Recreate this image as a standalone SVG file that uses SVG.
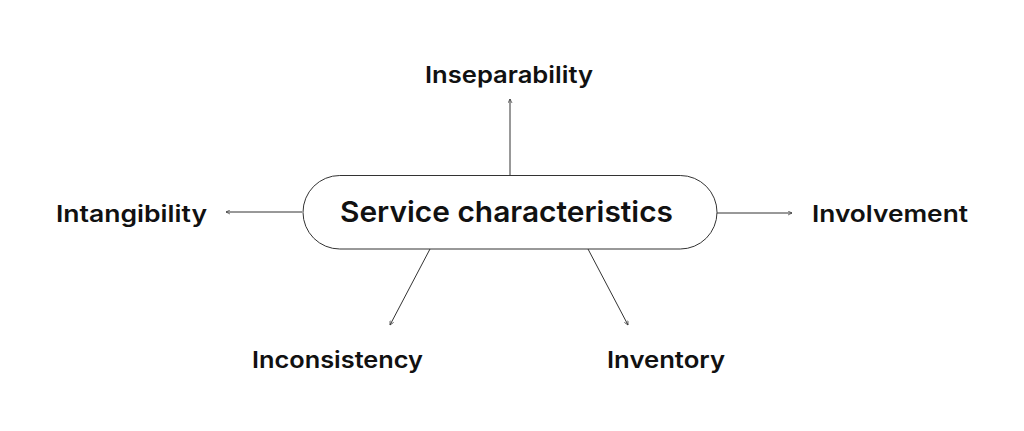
<svg xmlns="http://www.w3.org/2000/svg" width="1024" height="431" viewBox="0 0 1024 431">
<style>
.lbl{font-family:Inter,"Noto Sans","Liberation Sans",sans-serif;font-weight:600;font-size:23px;fill:#111;}
.main{font-family:Inter,"Noto Sans","Liberation Sans",sans-serif;font-weight:600;font-size:29px;fill:#111;}
.conn line{stroke:#333;stroke-width:1;fill:none;marker-end:url(#arr);}
</style>
<defs>
<marker id="arr" viewBox="0 0 10 10" refX="9" refY="5" markerWidth="5" markerHeight="5" orient="auto" markerUnits="userSpaceOnUse">
<path d="M1,1 L9,5 L1,9" fill="none" stroke="#333" stroke-width="1.4"/>
</marker>
</defs>
<rect width="1024" height="431" fill="#fff"/>
<g class="conn" id="connectors">
<line x1="510" y1="175" x2="510" y2="99"/>
<line x1="302" y1="212" x2="226" y2="212"/>
<line x1="717" y1="213" x2="792" y2="213"/>
<line x1="430" y1="249" x2="390" y2="325"/>
<line x1="588" y1="249" x2="628" y2="325"/>
</g>
<g id="center">
<rect x="303" y="175.5" width="414" height="73.5" rx="36.75" fill="#fff" stroke="#333" stroke-width="1"/>
<text class="main" x="340" y="222" textLength="333" lengthAdjust="spacingAndGlyphs">Service characteristics</text>
</g>
<g id="inseparability"><text class="lbl" x="425" y="83" textLength="168" lengthAdjust="spacingAndGlyphs">Inseparability</text></g>
<g id="intangibility"><text class="lbl" x="56" y="222" textLength="151" lengthAdjust="spacingAndGlyphs">Intangibility</text></g>
<g id="involvement"><text class="lbl" x="812" y="222" textLength="156" lengthAdjust="spacingAndGlyphs">Involvement</text></g>
<g id="inconsistency"><text class="lbl" x="252" y="368" textLength="171" lengthAdjust="spacingAndGlyphs">Inconsistency</text></g>
<g id="inventory"><text class="lbl" x="607" y="368" textLength="118" lengthAdjust="spacingAndGlyphs">Inventory</text></g>
</svg>
